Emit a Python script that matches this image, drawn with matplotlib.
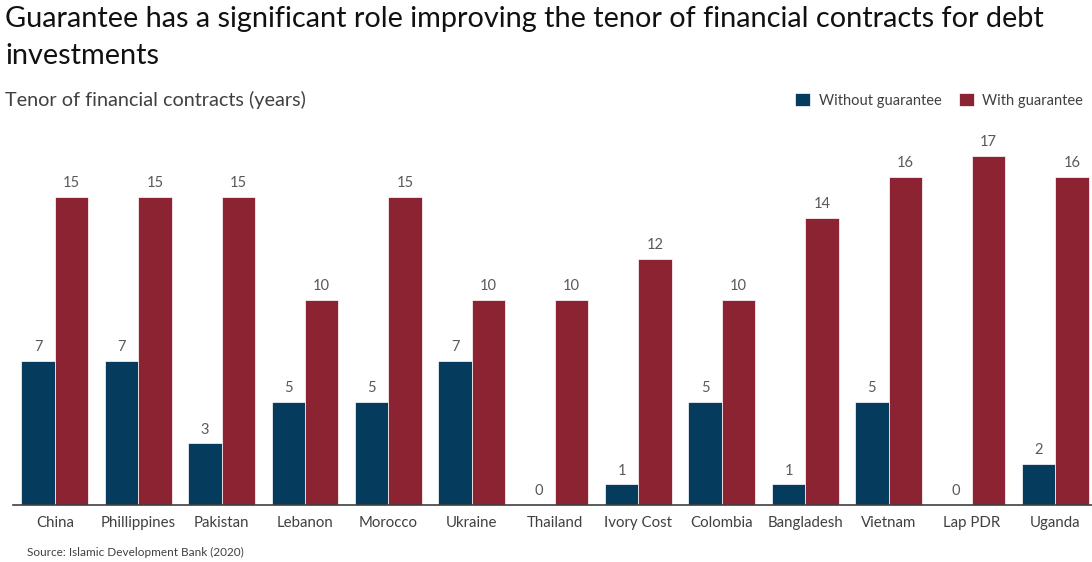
import numpy as np
import matplotlib.pyplot as plt

countries = ['China', 'Phillippines', 'Pakistan', 'Lebanon', 'Morocco', 'Ukraine',
             'Thailand', 'Ivory Cost', 'Colombia', 'Bangladesh', 'Vietnam', 'Lap PDR', 'Uganda']
without_guarantee = [7, 7, 3, 5, 5, 7, 0, 1, 5, 1, 5, 0, 2]
with_guarantee = [15, 15, 15, 10, 15, 10, 10, 12, 10, 14, 16, 17, 16]

blue = '#053B5C'
red = '#8B2332'
gray = '#595959'

plt.rcParams['font.family'] = ['Lato', 'DejaVu Sans']

fig = plt.figure(figsize=(10.92, 5.62), dpi=100)
ax = fig.add_axes([0.012, 0.1014, 0.988, 0.668])

x = np.arange(len(countries))
w = 0.4
b1 = ax.bar(x - w / 2, without_guarantee, w, color=blue, edgecolor='white', linewidth=0.5,
            label='Without guarantee')
b2 = ax.bar(x + w / 2, with_guarantee, w, color=red, edgecolor='white', linewidth=0.5,
            label='With guarantee')

# value labels above each bar
for bars, vals in [(b1, without_guarantee), (b2, with_guarantee)]:
    for rect, v in zip(bars, vals):
        ax.annotate(str(v), (rect.get_x() + rect.get_width() / 2, v),
                    xytext=(0, 5), textcoords='offset points',
                    ha='center', va='bottom', fontsize=10.5, color=gray)

ax.set_xlim(-0.5, 12.44)
ax.set_ylim(0, 18.3)
ax.set_xticks(x)
ax.set_xticklabels(countries, fontsize=10.8, color='#404040')
ax.tick_params(axis='x', length=0, pad=8)
ax.set_yticks([])
for s in ['top', 'right', 'left']:
    ax.spines[s].set_visible(False)
ax.spines['bottom'].set_color('#404040')
ax.spines['bottom'].set_linewidth(1.2)

fig.text(0.005, 0.99, 'Guarantee has a significant role improving the tenor of financial contracts for debt\ninvestments',
         ha='left', va='top', fontsize=20.8, color='#111111', linespacing=1.55)
fig.text(0.005, 0.822, 'Tenor of financial contracts (years)', ha='left', va='center',
         fontsize=14.3, color='#404040')
fig.text(0.025, 0.008, 'Source: Islamic Development Bank (2020)', ha='left', va='bottom',
         fontsize=8.5, color='#404040')

leg = ax.legend(loc='center right', bbox_to_anchor=(1.0, 1.077), ncol=2, frameon=False,
                fontsize=10.5, handlelength=1.0, handleheight=1.0, handletextpad=0.6,
                columnspacing=1.2, borderaxespad=0.2)
for t in leg.get_texts():
    t.set_color('#404040')

fig.savefig('out.png', dpi=100)
